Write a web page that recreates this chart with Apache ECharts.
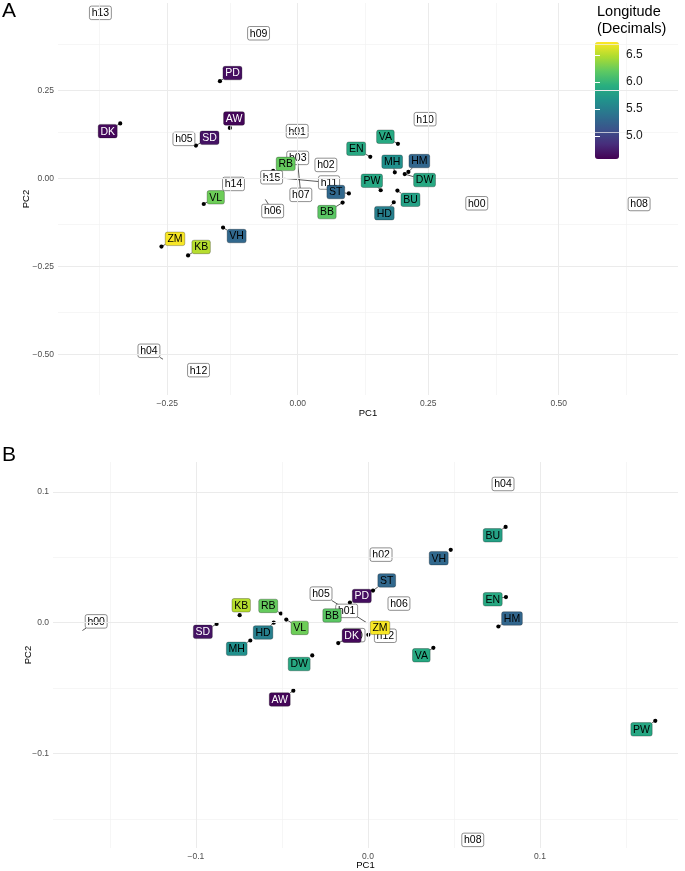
<!DOCTYPE html>
<html><head><meta charset="utf-8">
<script src="https://cdn.jsdelivr.net/npm/echarts@6/dist/echarts.min.js"></script>
<style>html,body{margin:0;padding:0;background:#fff}#c{width:685px;height:871px}</style>
</head><body><div id="c"></div>
<script>
// ---------------- DATA ----------------
const samples   = ['DK','PD','AW','SD','ZM','KB','VL','RB','BB','VH','ST','HM','HD','MH','EN','VA','PW','DW','BU'];
const longitude = [4.62,4.65,4.60,4.68,6.72,6.50,6.25,6.22,6.18,5.30,5.30,5.28,5.50,5.65,5.87,5.88,5.86,5.87,5.80];

// Panel A : sample scores and repelled label positions (PC units)
const A_PC1    = [-0.340,-0.149,-0.130,-0.195,-0.261,-0.210,-0.180,-0.047, 0.086,-0.143, 0.098, 0.212, 0.184, 0.186, 0.139, 0.192, 0.159, 0.205, 0.191];
const A_PC2    = [ 0.156, 0.276, 0.143, 0.093,-0.194,-0.219,-0.073, 0.021,-0.069,-0.140,-0.043, 0.018,-0.068, 0.017, 0.061, 0.098,-0.034, 0.012,-0.035];
const A_labPC1 = [-0.364,-0.125,-0.122,-0.169,-0.235,-0.185,-0.157,-0.023, 0.056,-0.117, 0.073, 0.233, 0.166, 0.181, 0.112, 0.168, 0.142, 0.243, 0.216];
const A_labPC2 = [ 0.134, 0.299, 0.170, 0.115,-0.172,-0.195,-0.054, 0.041,-0.096,-0.164,-0.039, 0.049,-0.099, 0.047, 0.084, 0.118,-0.007,-0.005,-0.061];

// Panel B
const B_PC1    = [-0.0173,-0.0105,-0.0434,-0.0880, 0.0002,-0.0746,-0.0475,-0.0506,-0.0180, 0.0481, 0.0029, 0.0758,-0.0548,-0.0684, 0.0802, 0.0380, 0.1670,-0.0324, 0.0800];
const B_PC2    = [-0.0156, 0.0154,-0.0520,-0.0010,-0.0093, 0.0057, 0.0024, 0.0070, 0.0072, 0.0557, 0.0245,-0.0029, 0.0000,-0.0136, 0.0196,-0.0192,-0.0750,-0.0250, 0.0732];
const B_labPC1 = [-0.0095,-0.0036,-0.0513,-0.0960, 0.0070,-0.0737,-0.0397,-0.0580,-0.0209, 0.0411, 0.0109, 0.0837,-0.0610,-0.0763, 0.0725, 0.0310, 0.1590,-0.0400, 0.0725];
const B_labPC2 = [-0.0100, 0.0204,-0.0587,-0.0070,-0.0039, 0.0133,-0.0040, 0.0128, 0.0055, 0.0493, 0.0323, 0.0032,-0.0075,-0.0200, 0.0179,-0.0249,-0.0815,-0.0316, 0.0668];

// Haplotype labels (no point drawn): point position and label position
const hapA      = ['h13','h09','h05','h01','h03','h02','h15','h11','h07','h14','h06','h10','h00','h08','h04','h12'];
const hapA_PC1  = [-0.378,-0.075,-0.218,-0.001, 0.000, 0.054,-0.050,-0.026, 0.000,-0.123,-0.062, 0.244, 0.343, 0.654,-0.258,-0.190];
const hapA_PC2  = [ 0.470, 0.412, 0.112, 0.134, 0.058, 0.038, 0.003, 0.000, 0.043,-0.016,-0.060, 0.168,-0.071,-0.073,-0.514,-0.545];
const hapA_labPC1=[-0.378,-0.075,-0.218,-0.001, 0.000, 0.054,-0.050, 0.060, 0.006,-0.123,-0.048, 0.244, 0.343, 0.654,-0.285,-0.190];
const hapA_labPC2=[ 0.470, 0.412, 0.112, 0.134, 0.058, 0.038, 0.003,-0.012,-0.047,-0.016,-0.093, 0.168,-0.071,-0.073,-0.490,-0.545];

const hapB      = ['h00','h05','h01','h10','h12','h06','h02','h04','h08'];
const hapB_PC1  = [-0.1660,-0.0008,-0.0124,-0.0081, 0.0101, 0.0180, 0.0076, 0.0785, 0.0609];
const hapB_PC2  = [-0.0060, 0.0000, 0.0090,-0.0095,-0.0100, 0.0146, 0.0520, 0.1060,-0.1660];
const hapB_labPC1=[-0.1580,-0.0273,-0.0124,-0.0081, 0.0101, 0.0180, 0.0076, 0.0785, 0.0609];
const hapB_labPC2=[ 0.0010, 0.0222, 0.0090,-0.0095,-0.0100, 0.0146, 0.0520, 0.1060,-0.1660];

// Ticks
const A_xTicks = [-0.25, 0, 0.25, 0.5];
const A_xMinor = [-0.375,-0.125,0.125,0.375,0.625];
const A_yTicks = [-0.5,-0.25,0,0.25];
const A_yMinor = [-0.375,-0.125,0.125,0.375];
const B_xTicks = [-0.1,0,0.1];
const B_xMinor = [-0.15,-0.05,0.05,0.15];
const B_yTicks = [-0.1,0,0.1];
const B_yMinor = [-0.15,-0.05,0.05];
const legendTicks = [5.0,5.5,6.0,6.5];
const lonRange = [4.57, 6.74];

// ---------------- STYLE / HELPERS ----------------
const FONT = '"Liberation Sans", Arial, Helvetica, sans-serif';
const viridis = ['#440154','#472D7B','#3B528B','#2C728E','#21918C','#28AE80','#5EC962','#ADDC30','#FDE725'];
const LABEL_FS = 10.5, LABEL_H = 13.5, PADX = 2.2;
const mctx = document.createElement('canvas').getContext('2d');
function textW(t){ mctx.font = LABEL_FS + 'px ' + FONT; return mctx.measureText(t).width; }
function minus(s){ return s.replace('-', '\u2212'); }
function lum(col){
  let r,g,b;
  if (col[0]==='#'){ r=parseInt(col.substr(1,2),16); g=parseInt(col.substr(3,2),16); b=parseInt(col.substr(5,2),16); }
  else { const m = col.match(/[\d.]+/g); r=+m[0]; g=+m[1]; b=+m[2]; }
  return 0.299*r+0.587*g+0.114*b;
}
function segment(p, c, hw, hh){
  const dx = p[0]-c[0], dy = p[1]-c[1];
  if (Math.abs(dx) <= hw && Math.abs(dy) <= hh) return null;
  const t = Math.min(dx===0?Infinity:hw/Math.abs(dx), dy===0?Infinity:hh/Math.abs(dy));
  const e = [c[0]+dx*t, c[1]+dy*t];
  if (Math.hypot(p[0]-e[0], p[1]-e[1]) < 3.5) return null;
  return e;
}
function makeLabelRender(names, colored){
  return function(params, api){
    const p = api.coord([api.value(0), api.value(1)]);
    const c = api.coord([api.value(2), api.value(3)]);
    const name = names[params.dataIndex];
    const w = textW(name) + 2*PADX, h = LABEL_H;
    const children = [];
    const e = segment(p, c, w/2, h/2);
    if (e) children.push({type:'line', shape:{x1:e[0],y1:e[1],x2:p[0],y2:p[1]}, style:{stroke:'#000', lineWidth:0.65}});
    let fill = '#ffffff', stroke = '#444', txt = '#000';
    if (colored){
      fill = api.visual('color');
      stroke = 'rgba(0,0,0,0.45)';
      txt = lum(fill) < 90 ? '#ffffff' : '#000000';
    }
    children.push({type:'rect', shape:{x:c[0]-w/2, y:c[1]-h/2, width:w, height:h, r:2}, style:{fill:fill, stroke:stroke, lineWidth:0.6}});
    children.push({type:'text', style:{text:name, x:c[0], y:c[1]+0.5, align:'center', verticalAlign:'middle', fill:txt, fontSize:LABEL_FS, fontFamily:FONT}});
    return {type:'group', children:children};
  };
}
function pointRender(params, api){
  const p = api.coord([api.value(0), api.value(1)]);
  return {type:'circle', shape:{cx:p[0], cy:p[1], r:2.1}, style:{fill:'#000'}};
}
function sampleData(x, y, lx, ly){
  return samples.map((s,i)=>({name:s, value:[x[i], y[i], lx[i], ly[i], longitude[i]]}));
}
function hapData(names, x, y, lx, ly){
  return names.map((s,i)=>({name:s, value:[x[i], y[i], lx[i], ly[i]]}));
}
function gridLines(xMaj, xMin, yMaj, yMin){
  const maj = {color:'#ebebeb', width:1, type:'solid'};
  const mn  = {color:'#f2f2f2', width:0.7, type:'solid'};
  return [].concat(
    xMin.map(v=>({xAxis:v, lineStyle:mn})), yMin.map(v=>({yAxis:v, lineStyle:mn})),
    xMaj.map(v=>({xAxis:v, lineStyle:maj})), yMaj.map(v=>({yAxis:v, lineStyle:maj})));
}
function gridSeries(idx, xMaj, xMin, yMaj, yMin){
  return {type:'scatter', xAxisIndex:idx, yAxisIndex:idx, data:[], z:0, silent:true,
    markLine:{silent:true, symbol:['none','none'], label:{show:false}, animation:false, data:gridLines(xMaj,xMin,yMaj,yMin)}};
}
const axisLab = (vals, dec) => ({customValues:vals, formatter:v=>minus(v.toFixed(dec)), color:'#4d4d4d', fontSize:8.5, fontFamily:FONT, margin:4});
function valueAxis(idx, min, max, vals, dec, name, gap){
  return {type:'value', gridIndex:idx, min:min, max:max, axisLine:{show:false}, axisTick:{show:false}, splitLine:{show:false},
    axisLabel:axisLab(vals, dec), name:name, nameLocation:'middle', nameGap:gap, nameMoveOverlap:false,
    nameTextStyle:{color:'#000', fontSize:9.5, fontFamily:FONT}};
}

const chart = echarts.init(document.getElementById('c'), null, {renderer:'canvas'});
const option = {
  animation:false,
  backgroundColor:'#fff',
  title:[
    {text:'A', left:2, top:1, padding:0, textStyle:{fontSize:21, fontWeight:'normal', color:'#000', fontFamily:FONT}},
    {text:'B', left:2, top:445, padding:0, textStyle:{fontSize:21, fontWeight:'normal', color:'#000', fontFamily:FONT}}
  ],
  grid:[
    {left:58, top:3, width:620, height:392},
    {left:53, top:462, width:625, height:388},
    {left:595, top:42, width:24, height:117}
  ],
  xAxis:[
    valueAxis(0, -0.4592, 0.7285, A_xTicks, 2, 'PC1', 13),
    valueAxis(1, -0.1831, 0.1802, B_xTicks, 1, 'PC1', 12),
    {type:'value', gridIndex:2, min:0, max:1, show:false}
  ],
  yAxis:[
    valueAxis(0, -0.6156, 0.498, A_yTicks, 2, 'PC2', 27),
    valueAxis(1, -0.1722, 0.1228, B_yTicks, 1, 'PC2', 20),
    {type:'value', gridIndex:2, min:lonRange[0], max:lonRange[1], position:'right', z:6,
      axisLine:{show:false}, splitLine:{show:false},
      axisTick:{show:true, inside:true, length:5, customValues:legendTicks, lineStyle:{color:'#fff', width:1}},
      axisLabel:{customValues:legendTicks, formatter:v=>v.toFixed(1), fontSize:12, color:'#1a1a1a', fontFamily:FONT, margin:7}},
    {type:'value', gridIndex:2, min:lonRange[0], max:lonRange[1], position:'left', z:6,
      axisLine:{show:false}, splitLine:{show:false}, axisLabel:{show:false},
      axisTick:{show:true, inside:true, length:5, customValues:legendTicks, lineStyle:{color:'#fff', width:1}}}
  ],
  visualMap:{
    type:'continuous', min:lonRange[0], max:lonRange[1], dimension:4, seriesIndex:[3,7],
    inRange:{color:viridis}, left:595, top:42, itemWidth:24, itemHeight:117, padding:0,
    calculable:false, hoverLink:false, text:null, showLabel:false, z:5
  },
  graphic:{elements:[
    {type:'rect', z:1, silent:true, shape:{x:592, y:0, width:78, height:164}, style:{fill:'#fff'}},
    {type:'text', z:7, silent:true, style:{text:'Longitude\n(Decimals)', x:597, y:4, fontSize:14.5, lineHeight:16.7, fill:'#000', fontFamily:FONT}}
  ]},
  series:[
    gridSeries(0, A_xTicks, A_xMinor, A_yTicks, A_yMinor),
    {type:'custom', xAxisIndex:0, yAxisIndex:0, z:3, renderItem:pointRender, data:sampleData(A_PC1,A_PC2,A_labPC1,A_labPC2), clip:false},
    {type:'custom', xAxisIndex:0, yAxisIndex:0, z:4, renderItem:makeLabelRender(hapA,false), data:hapData(hapA,hapA_PC1,hapA_PC2,hapA_labPC1,hapA_labPC2)},
    {type:'custom', xAxisIndex:0, yAxisIndex:0, z:5, renderItem:makeLabelRender(samples,true), data:sampleData(A_PC1,A_PC2,A_labPC1,A_labPC2)},
    gridSeries(1, B_xTicks, B_xMinor, B_yTicks, B_yMinor),
    {type:'custom', xAxisIndex:1, yAxisIndex:1, z:3, renderItem:pointRender, data:sampleData(B_PC1,B_PC2,B_labPC1,B_labPC2)},
    {type:'custom', xAxisIndex:1, yAxisIndex:1, z:4, renderItem:makeLabelRender(hapB,false), data:hapData(hapB,hapB_PC1,hapB_PC2,hapB_labPC1,hapB_labPC2)},
    {type:'custom', xAxisIndex:1, yAxisIndex:1, z:5, renderItem:makeLabelRender(samples,true), data:sampleData(B_PC1,B_PC2,B_labPC1,B_labPC2)}
  ]
};
chart.setOption(option);
</script></body></html>
